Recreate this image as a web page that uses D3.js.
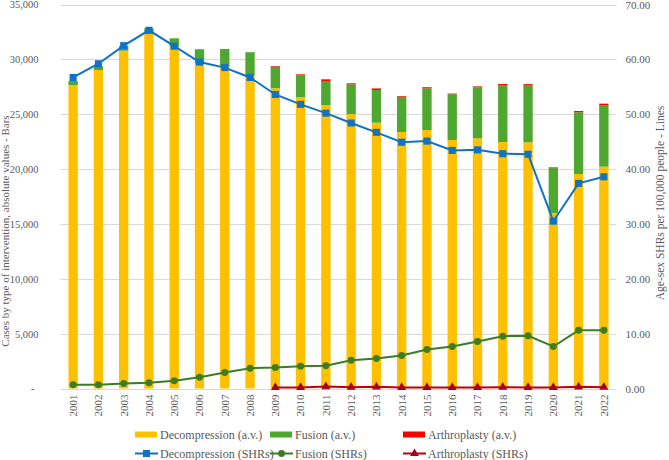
<!DOCTYPE html>
<html>
<head>
<meta charset="utf-8">
<script src="https://cdn.jsdelivr.net/npm/d3@7"></script>
<style>
  body { margin: 0; background: #fff; }
</style>
</head>
<body>
<div id="chart"></div>
<script>
const years = d3.range(2001, 2023);

// absolute values (bars, left axis)
const decompAV = [27650, 29030, 30790, 32350, 31150, 29600, 29300, 28550, 27360, 26540, 25820, 25010, 24230, 23380, 23560, 22650, 22800, 22470, 22440, 16000, 19550, 20220];
const fusionAV = [380, 330, 420, 480, 770, 1320, 1650, 2100, 1970, 2030, 2210, 2715, 2980, 3220, 3800, 4170, 4655, 5195, 5225, 4090, 5625, 5620];
const arthroAV = [0, 0, 0, 0, 0, 0, 0, 0, 60, 60, 150, 90, 140, 60, 100, 60, 80, 90, 80, 60, 115, 120];

// standardized rates (lines, right axis)
const decompSHR = [56.7, 59.2, 62.5, 65.3, 62.4, 59.5, 58.5, 56.7, 53.6, 51.8, 50.2, 48.4, 46.7, 44.9, 45.1, 43.4, 43.5, 42.8, 42.7, 30.5, 37.4, 38.6];
const fusionSHR = [0.68, 0.68, 0.91, 1.03, 1.4, 2.06, 2.92, 3.7, 3.83, 4.07, 4.13, 5.16, 5.47, 6.02, 7.11, 7.66, 8.57, 9.54, 9.6, 7.66, 10.6, 10.6];
const arthroSHR = [null, null, null, null, null, null, null, null, 0.2, 0.2, 0.35, 0.25, 0.3, 0.2, 0.2, 0.2, 0.2, 0.25, 0.2, 0.2, 0.3, 0.25];

const leftTicks = d3.range(0, 35001, 5000);
const rightTicks = d3.range(0, 70.1, 10);

const width = 669;
const height = 460;
const plot = { left: 60.5, right: 616.5, top: 4.5, bottom: 388.5 };
const font = "'Liberation Serif', 'Times New Roman', serif";
const textColor = "#595959";

const colors = {
    decomp: "#FFC000",
    fusion: "#4EA72E",
    arthro: "#FF0000",
    decompLine: "#0F72C6",
    fusionLine: "#3B7D23",
    arthroLine: "#C00000",
    arthroMark: "#A50021"
};

const svg = d3.select("#chart")
    .append("svg")
    .attr("width", width)
    .attr("height", height)
    .style("font-family", font);

const x = d3.scaleBand()
    .domain(years)
    .range([plot.left, plot.right])
    .paddingInner(0.63)
    .paddingOuter(0.315);

const yLeft = d3.scaleLinear()
    .domain([0, 35000])
    .range([plot.bottom, plot.top]);

const yRight = d3.scaleLinear()
    .domain([0, 70])
    .range([plot.bottom, plot.top]);

// gridlines
svg.append("g")
    .selectAll("line")
    .data(leftTicks)
    .enter()
    .append("line")
    .attr("x1", plot.left)
    .attr("x2", plot.right)
    .attr("y1", d => Math.round(yLeft(d)) + 0.5)
    .attr("y2", d => Math.round(yLeft(d)) + 0.5)
    .attr("stroke", "#d9d9d9")
    .attr("stroke-width", 1);

function styleAxis(g, size) {
    g.attr("font-family", null).style("font-family", font);
    g.select(".domain").remove();
    g.selectAll("text")
        .style("font-family", font)
        .style("font-size", size)
        .attr("fill", textColor);
}

// left axis
const leftAxis = svg.append("g")
    .attr("transform", `translate(${plot.left}, 0)`)
    .call(d3.axisLeft(yLeft)
        .tickValues(leftTicks)
        .tickSize(0)
        .tickPadding(22)
        .tickFormat(d => d === 0 ? "-" : d3.format(",")(d)));
styleAxis(leftAxis, "10.5px");
leftAxis.selectAll("text").filter(d => d === 0).attr("dx", "-4");

// right axis
const rightAxis = svg.append("g")
    .attr("transform", `translate(${plot.right}, 0)`)
    .call(d3.axisRight(yRight)
        .tickValues(rightTicks)
        .tickSize(0)
        .tickPadding(9)
        .tickFormat(d3.format(".2f")));
styleAxis(rightAxis, "11px");

// x axis
const xAxis = svg.append("g")
    .attr("transform", `translate(0, ${plot.bottom})`)
    .call(d3.axisBottom(x).tickSize(0).tickPadding(0));
styleAxis(xAxis, "11px");
xAxis.selectAll("text")
    .attr("transform", "rotate(-90)")
    .attr("text-anchor", "end")
    .attr("x", -6)
    .attr("y", 0)
    .attr("dy", "0.35em");

// stacked bars
const rows = years.map((year, i) => ({
    year: year,
    decomp: decompAV[i],
    fusion: fusionAV[i],
    arthro: arthroAV[i]
}));
const stack = d3.stack().keys(["decomp", "fusion", "arthro"])(rows);

svg.append("g")
    .selectAll("g")
    .data(stack)
    .enter()
    .append("g")
    .attr("fill", d => colors[d.key])
    .selectAll("rect")
    .data(d => d)
    .enter()
    .append("rect")
    .attr("x", d => x(d.data.year))
    .attr("width", x.bandwidth())
    .attr("y", d => yLeft(d[1]))
    .attr("height", d => yLeft(d[0]) - yLeft(d[1]));

// lines
const lineSeries = [
    { values: decompSHR, color: colors.decompLine, marker: "square", markColor: colors.decompLine },
    { values: fusionSHR, color: colors.fusionLine, marker: "circle", markColor: colors.fusionLine },
    { values: arthroSHR, color: colors.arthroLine, marker: "triangle", markColor: colors.arthroMark }
];

const line = d3.line()
    .defined(d => d.v !== null)
    .x(d => x(d.year) + x.bandwidth() / 2)
    .y(d => yRight(d.v));

const symbols = {
    square: d3.symbol().type(d3.symbolSquare).size(50),
    circle: d3.symbol().type(d3.symbolCircle).size(38),
    triangle: d3.symbol().type(d3.symbolTriangle).size(34)
};

lineSeries.forEach(s => {
    const pts = years.map((year, i) => ({ year: year, v: s.values[i] }));
    svg.append("path")
        .datum(pts)
        .attr("fill", "none")
        .attr("stroke", s.color)
        .attr("stroke-width", 2)
        .attr("d", line);
    svg.append("g")
        .selectAll("path")
        .data(pts.filter(d => d.v !== null))
        .enter()
        .append("path")
        .attr("d", symbols[s.marker])
        .attr("transform", d => `translate(${x(d.year) + x.bandwidth() / 2}, ${yRight(d.v)})`)
        .attr("fill", s.markColor);
});

// axis titles
svg.append("text")
    .attr("transform", "rotate(-90)")
    .attr("x", -231)
    .attr("y", 5.5)
    .attr("dy", "0.35em")
    .attr("text-anchor", "middle")
    .attr("fill", textColor)
    .style("font-size", "11px")
    .text("Cases by type of intervention, absolute values - Bars");

svg.append("text")
    .attr("transform", "rotate(-90)")
    .attr("x", -203)
    .attr("y", 660)
    .attr("dy", "0.35em")
    .attr("text-anchor", "middle")
    .attr("fill", textColor)
    .style("font-size", "11.5px")
    .text("Age-sex SHRs per 100,000 people - Lines");

// legend
const legendItems = [
    { label: "Decompression (a.v.)", type: "bar", color: colors.decomp, x: 135, y: 434.5 },
    { label: "Fusion (a.v.)", type: "bar", color: colors.fusion, x: 270, y: 434.5 },
    { label: "Arthroplasty (a.v.)", type: "bar", color: colors.arthro, x: 403, y: 434.5 },
    { label: "Decompression (SHRs)", type: "square", color: colors.decompLine, mark: colors.decompLine, x: 135, y: 453.5 },
    { label: "Fusion (SHRs)", type: "circle", color: colors.fusionLine, mark: colors.fusionLine, x: 270, y: 453.5 },
    { label: "Arthroplasty (SHRs)", type: "triangle", color: colors.arthroLine, mark: colors.arthroMark, x: 403, y: 453.5 }
];

const legend = svg.append("g");

legendItems.forEach(item => {
    const g = legend.append("g").attr("transform", `translate(${item.x}, ${item.y})`);
    if (item.type === "bar") {
        g.append("rect")
            .attr("x", 0)
            .attr("y", -3)
            .attr("width", 22)
            .attr("height", 6)
            .attr("fill", item.color);
    } else {
        g.append("line")
            .attr("x1", 0)
            .attr("x2", 23)
            .attr("stroke", item.color)
            .attr("stroke-width", 2);
        g.append("path")
            .attr("d", symbols[item.type])
            .attr("transform", "translate(11.5, 0)")
            .attr("fill", item.mark);
    }
    g.append("text")
        .attr("x", 25)
        .attr("y", 0)
        .attr("dy", "0.35em")
        .attr("fill", textColor)
        .style("font-size", "12px")
        .text(item.label);
});
</script>
</body>
</html>
